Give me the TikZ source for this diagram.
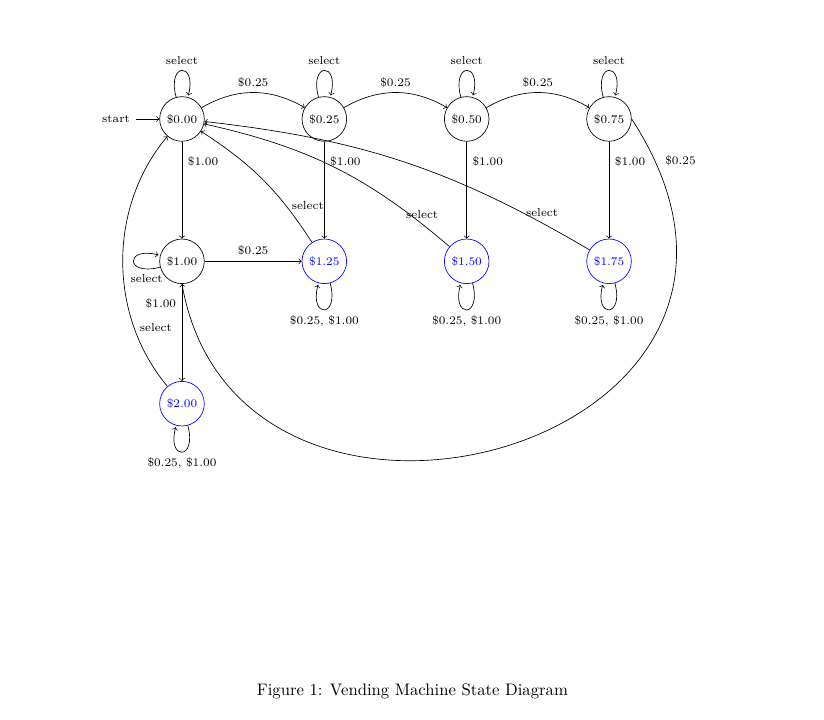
\documentclass[tikz,border=0pt]{standalone}
\usepackage{tikz}
\usetikzlibrary{automata,positioning,arrows}
\tikzset{
  st/.style={state, minimum size=9.4mm, inner sep=1pt},
  stacc/.style={st, draw=blue, text=blue},
  arr/.style={->, >=to},
}
\begin{document}
\begin{tikzpicture}[node distance=3cm, on grid, font=\scriptsize, auto]
  \useasboundingbox (-3.835,-12.66) rectangle (13.53,2.507);

  \node[st, initial, initial text=start, initial distance=5mm] (s000) {\$0.00};
  \node[st, right=of s000] (s025) {\$0.25};
  \node[st, right=of s025] (s050) {\$0.50};
  \node[st, right=of s050] (s075) {\$0.75};
  \node[st, below=of s000] (s100) {\$1.00};
  \node[stacc, below=of s025] (s125) {\$1.25};
  \node[stacc, below=of s050] (s150) {\$1.50};
  \node[stacc, below=of s075] (s175) {\$1.75};
  \node[stacc, below=of s100] (s200) {\$2.00};

  \path[arr]
    (s000) edge[loop above] node {select} ()
           edge[bend left] node {\$0.25} (s025)
           edge node[pos=0.2] {\$1.00} (s100)
    (s025) edge[loop above] node {select} ()
           edge[bend left] node {\$0.25} (s050)
           edge node[pos=0.2] {\$1.00} (s125)
    (s050) edge[loop above] node {select} ()
           edge[bend left] node {\$0.25} (s075)
           edge node[pos=0.2] {\$1.00} (s150)
    (s075) edge[loop above] node {select} ()
           edge node[pos=0.2] {\$1.00} (s175)
    (s100) edge[loop left] node[below, pos=0.15] {select} ()
           edge node {\$0.25} (s125)
           edge node[swap, pos=0.2] {\$1.00} (s200)
    (s125) edge[loop below] node {\$0.25, \$1.00} ()
           edge[bend right=12] node[right, pos=0.27] {select} (s000)
    (s150) edge[loop below] node {\$0.25, \$1.00} ()
           edge[bend right=14] node[above, pos=0.115] {select} (s000)
    (s175) edge[loop below] node {\$0.25, \$1.00} ()
           edge[bend right=12] node[above, pos=0.12] {select} (s000)
    (s200) edge[loop below] node {\$0.25, \$1.00} ()
           edge[bend left=40, looseness=0.95] node[right, pos=0.25] {select} (s000);

  % long way back from $0.75 to $1.00
  \draw[arr] (s075.east) .. controls +(-57:8.2) and +(-80:6.95) .. (s100.south)
    node[pos=0.055] {\$0.25};

  \node[font=\normalsize] (cap) at (4.857,-12.07) {Figure 1: Vending Machine State Diagram};
\end{tikzpicture}
\end{document}
